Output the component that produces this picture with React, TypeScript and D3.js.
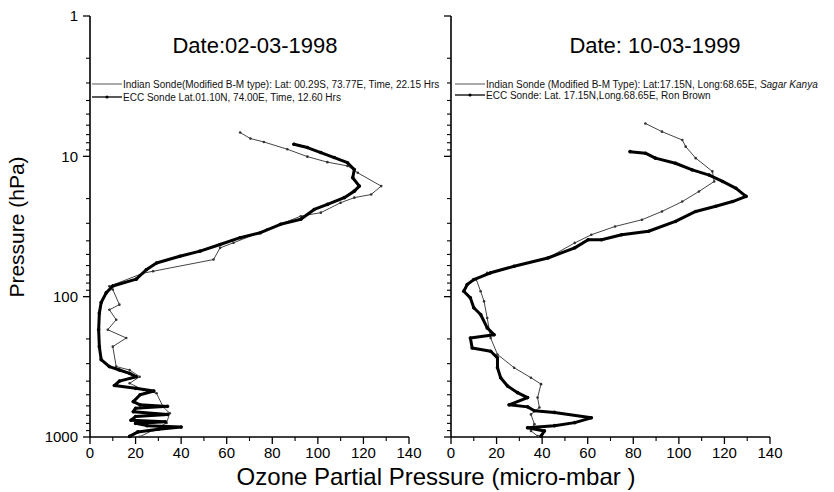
import React from "react";
import * as d3 from "d3";

// [ozone partial pressure (micro-mbar), pressure (hPa)]
const leftIndian: [number, number][] = [
  [65.9, 6.77], [70.4, 7.47], [76.3, 7.9], [86.6, 8.9], [95.4, 10.05], [104.2, 11], [113, 11.7],
  [117.5, 13.1], [127.8, 16.3], [123.4, 18.7], [116, 19.7], [110, 21.4], [101.3, 25.2], [92.5, 26.7],
  [77.7, 33.2], [63, 41.3], [57.1, 44.9], [54.2, 54.4], [27.7, 65.9], [23.3, 68], [8.5, 84.4],
  [10, 89], [12.9, 114], [8.5, 124], [11.5, 146], [7.8, 172], [15.9, 197], [10, 227], [11.5, 315],
  [17.4, 333], [21.8, 372], [17.4, 414], [23.4, 462], [29.2, 488], [32.1, 610], [35, 677],
  [33.6, 795], [27.7, 895], [21.8, 995],
];

const leftECC: [number, number][] = [
  [89.5, 8.2], [95.4, 8.66], [101.3, 9.4], [107.2, 10.2], [113, 11.1], [116, 12.4], [115.3, 14.2],
  [118.2, 16.3], [116, 17.7], [111.6, 19.7], [104.2, 22], [98.4, 23.9], [92.5, 28.1], [83.6, 30.5],
  [74.8, 35], [65.9, 38], [57.1, 42.5], [48.3, 47.4], [39.4, 51.5], [29.2, 57.5], [24.7, 64.3],
  [20.3, 75], [10, 84], [7.1, 94], [4.9, 110], [4.1, 131], [3.8, 172], [4.1, 227], [4.9, 281],
  [8.5, 315], [12.9, 333], [17.4, 352], [20.3, 372], [12.9, 400], [10.7, 430], [20, 450],
  [28, 470], [22, 500], [19, 560], [22, 590], [34, 605], [20, 625], [19, 660], [34, 690],
  [20, 715], [18, 760], [33, 780], [20, 800], [25, 830], [40, 850], [30, 880], [21, 920], [17.4, 990],
];

const rightIndian: [number, number][] = [
  [85.3, 5.83], [92.6, 6.67], [101.5, 7.65], [103, 8.53], [107.4, 10.3], [114.7, 12.8], [115.5, 15.1],
  [108.8, 17.8], [101.5, 21], [92.6, 24.7], [83.8, 28.3], [72, 31.6], [61.6, 36.2], [54.3, 41.4],
  [42.5, 53], [27.7, 60.7], [15.9, 67.6], [11, 75], [13, 91.5], [14.5, 108], [15.9, 142],
  [17.4, 197], [20.4, 258], [27.7, 321], [35.1, 378], [39.5, 420], [38, 524], [38.8, 616],
  [35.1, 690], [36.6, 810], [35.1, 905], [38, 985],
];

const rightECC: [number, number][] = [
  [78.6, 9.26], [85.3, 9.5], [89.7, 10.3], [98.5, 11.2], [105.9, 12.5], [113.3, 13.6], [119.2, 15.1],
  [125.1, 16.9], [129.5, 19.3], [123.6, 21], [116.2, 22.7], [107.4, 24.7], [98.5, 29.1], [86.7, 34.2],
  [74.9, 36.2], [66.1, 39.3], [60.2, 39.3], [54.3, 44.9], [42.5, 53], [27.7, 60.7], [17.4, 67.6],
  [10, 75.6], [7.1, 82], [5.6, 91.5], [8.5, 102], [10, 120], [13, 134], [15.9, 167], [18.9, 187],
  [8.5, 197], [9.3, 232], [17.4, 245], [20.4, 273], [20.4, 321], [21.8, 378], [24.8, 433],
  [29.2, 483], [33.6, 524], [25.5, 590], [33.6, 610], [36.6, 650], [45.4, 668], [61.6, 730],
  [54.3, 790], [45.4, 830], [33.6, 860], [41, 905], [39.5, 985],
];

const xTicks = [0, 20, 40, 60, 80, 100, 120, 140];
const yMajorTicks = [1, 10, 100, 1000];
const titles = ["Date:02-03-1998", "Date: 10-03-1999"];
const leftLegend = [
  "Indian Sonde(Modified B-M type): Lat: 00.29S, 73.77E, Time, 22.15 Hrs",
  "ECC Sonde  Lat.01.10N, 74.00E, Time, 12.60 Hrs",
];
const rightLegend = [
  "Indian Sonde (Modified B-M Type): Lat:17.15N, Long:68.65E,  ",
  "ECC Sonde: Lat. 17.15N,Long.68.65E, Ron Brown",
];
const rightLegendShip = "Sagar Kanya";

const FONT = "'Liberation Sans', Arial, sans-serif";

const yScale = d3.scaleLog().domain([1, 1000]).range([16, 437]);
const yMinor: number[] = [];
[1, 10, 100].forEach((d) => {
  for (let k = 2; k <= 9; k++) yMinor.push(d * k);
});

type PanelProps = {
  x0: number;
  x1: number;
  indian: [number, number][];
  ecc: [number, number][];
  showYLabels: boolean;
  title: string;
  titleX: number;
};

function Panel({ x0, x1, indian, ecc, showYLabels, title, titleX }: PanelProps) {
  const x = d3.scaleLinear().domain([0, 140]).range([x0, x1]);
  const line = d3
    .line<[number, number]>()
    .x((d) => x(d[0]))
    .y((d) => yScale(d[1]));
  const bottom = yScale(1000);
  const minorX: number[] = d3.range(10, 140, 20);
  return (
    <g>
      <line x1={x0} x2={x0} y1={yScale(1)} y2={bottom} stroke="#000" strokeWidth={1.6} />
      <line x1={x0} x2={x1} y1={bottom} y2={bottom} stroke="#000" strokeWidth={1.6} />
      {yMajorTicks.map((t) => (
        <g key={"ym" + t}>
          <line x1={x0 - 7} x2={x0} y1={yScale(t)} y2={yScale(t)} stroke="#000" strokeWidth={1.3} />
          {showYLabels && (
            <text x={x0 - 12} y={yScale(t)} dy="0.35em" textAnchor="end" fontSize={15} fontFamily={FONT}>
              {t}
            </text>
          )}
        </g>
      ))}
      {yMinor.map((t) => (
        <line key={"yn" + t} x1={x0 - 4} x2={x0} y1={yScale(t)} y2={yScale(t)} stroke="#000" strokeWidth={1.1} />
      ))}
      {xTicks.map((t) => (
        <g key={"xm" + t}>
          <line x1={x(t)} x2={x(t)} y1={bottom} y2={bottom + 7} stroke="#000" strokeWidth={1.3} />
          <text x={x(t)} y={bottom + 21} textAnchor="middle" fontSize={15} fontFamily={FONT}>
            {t}
          </text>
        </g>
      ))}
      {minorX.map((t) => (
        <line key={"xn" + t} x1={x(t)} x2={x(t)} y1={bottom} y2={bottom + 4} stroke="#000" strokeWidth={1.1} />
      ))}
      <path d={line(indian) || ""} fill="none" stroke="#444" strokeWidth={1} strokeLinejoin="round" />
      {indian.map((d, i) => (
        <circle key={"ip" + i} cx={x(d[0])} cy={yScale(d[1])} r={1.3} fill="#333" />
      ))}
      <path d={line(ecc) || ""} fill="none" stroke="#000" strokeWidth={3} strokeLinejoin="round" strokeLinecap="round" />
      {ecc.map((d, i) => (
        <circle key={"ep" + i} cx={x(d[0])} cy={yScale(d[1])} r={1.8} fill="#000" />
      ))}
      <text x={titleX} y={53} textAnchor="middle" fontSize={22} fontFamily={FONT}>
        {title}
      </text>
    </g>
  );
}

function LegendRow({ x, y, text, withMarkers, extra }: { x: number; y: number; text: string; withMarkers: boolean; extra?: string }) {
  return (
    <g>
      <line x1={x} x2={x + 30} y1={y} y2={y} stroke={withMarkers ? "#000" : "#555"} strokeWidth={withMarkers ? 1.3 : 1} />
      {withMarkers && <circle cx={x + 15} cy={y} r={1.6} fill="#000" />}
      <text x={x + 31} y={y} dy="0.35em" fontSize={10} fontFamily={FONT} fill="#111">
        {text}
        {extra && <tspan fontStyle="italic">{extra}</tspan>}
      </text>
    </g>
  );
}

export default function App() {
  return (
    <svg width={834} height={492} style={{ position: "absolute", left: 0, top: 0, background: "#fff" }}>
      <rect width={834} height={492} fill="#fff" />
      <Panel x0={90} x1={409} indian={leftIndian} ecc={leftECC} showYLabels={true} title={titles[0]} titleX={255} />
      <Panel x0={451} x1={770} indian={rightIndian} ecc={rightECC} showYLabels={false} title={titles[1]} titleX={655} />
      <LegendRow x={92} y={84} text={leftLegend[0]} withMarkers={false} />
      <LegendRow x={92} y={97} text={leftLegend[1]} withMarkers={true} />
      <LegendRow x={455} y={84} text={rightLegend[0]} withMarkers={false} extra={rightLegendShip} />
      <LegendRow x={455} y={95} text={rightLegend[1]} withMarkers={true} />
      <text transform="translate(24,227) rotate(-90)" textAnchor="middle" fontSize={21} fontFamily={FONT}>
        Pressure (hPa)
      </text>
      <text x={436} y={485} textAnchor="middle" fontSize={24} fontFamily={FONT}>
        Ozone Partial Pressure (micro-mbar )
      </text>
    </svg>
  );
}
